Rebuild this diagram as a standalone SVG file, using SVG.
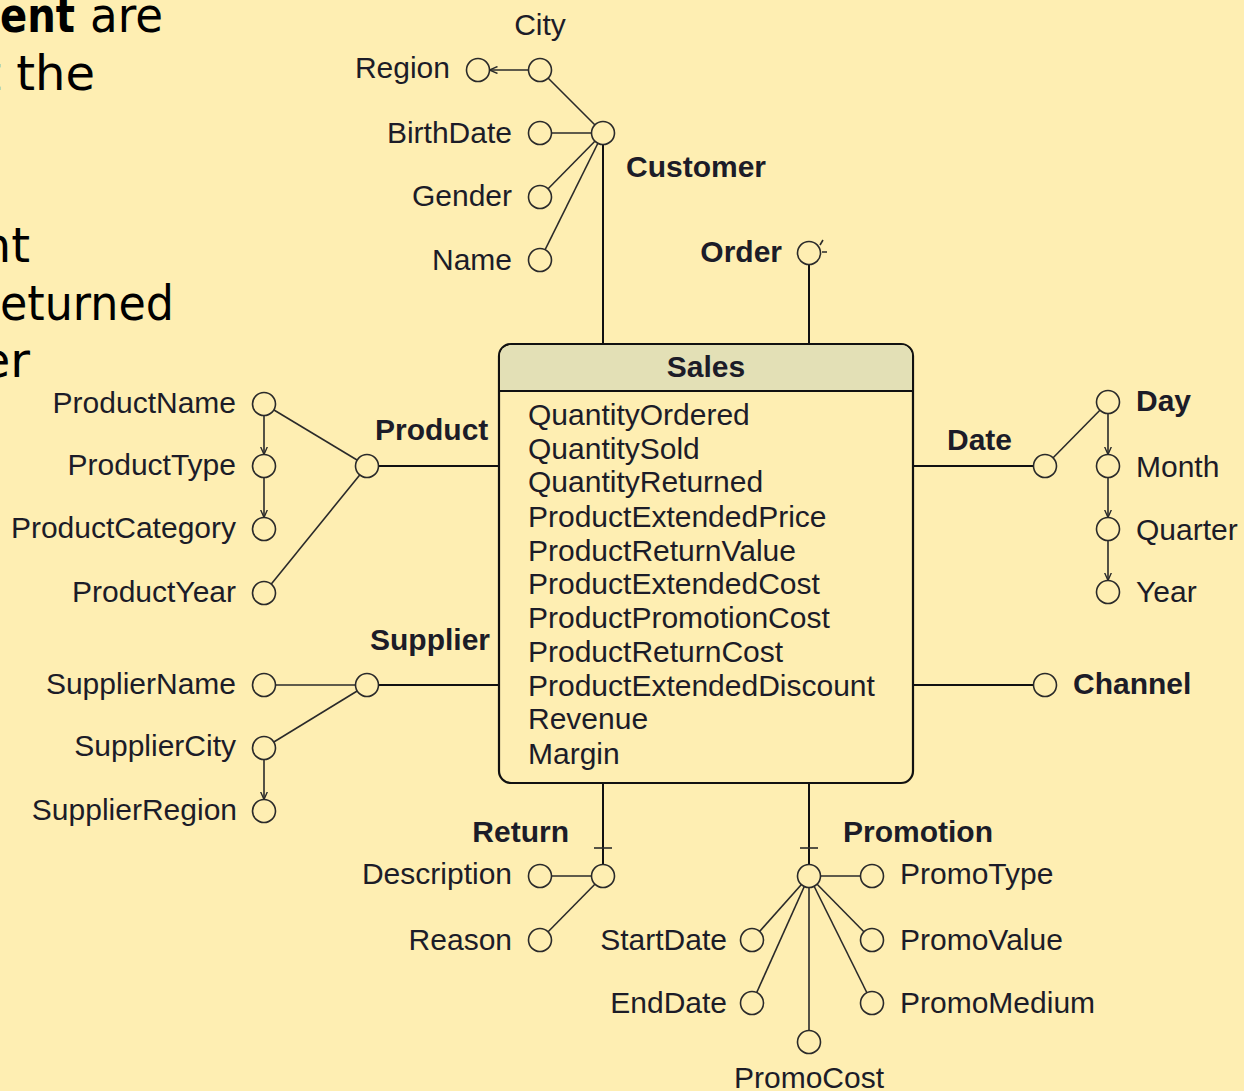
<svg xmlns="http://www.w3.org/2000/svg" width="1244" height="1091" viewBox="0 0 1244 1091">
  <style>
    .t { font-family: "Liberation Sans", Arial, sans-serif; font-size: 30px; fill: #1c1c28; }
    .b { font-weight: bold; }
    .e { text-anchor: end; }
    .m { text-anchor: middle; }
    .slide { font-family: "DejaVu Sans", sans-serif; font-size: 48px; fill: #000; }
    .n { fill: #feeeb2; stroke: #2a2a2a; stroke-width: 1.6; }
    .c line, .c path { stroke: #2a2a2a; stroke-width: 1.6; fill: none; }
    .c .k { stroke: #111; stroke-width: 2; }
  </style>
  <defs>
    <marker id="arr" viewBox="0 0 8 8" refX="8" refY="4" markerWidth="8" markerHeight="8" markerUnits="userSpaceOnUse" orient="auto">
      <path d="M0,0.5 L8,4 L0,7.5" fill="none" stroke="#2a2a2a" stroke-width="1.4"/>
    </marker>
  </defs>

  <rect x="0" y="0" width="1244" height="1091" fill="#feeeb2"/>

  <!-- slide text running in from the left -->
  <g id="slide-text">
    <text class="slide" x="0" y="32" font-weight="bold" textLength="75" lengthAdjust="spacingAndGlyphs">ent</text>
    <text class="slide" x="90" y="32" textLength="73" lengthAdjust="spacingAndGlyphs">are</text>
    <text class="slide" x="95" y="90" text-anchor="end">t the</text>
    <text class="slide" x="30" y="262" text-anchor="end">nt</text>
    <text class="slide" x="0" y="320" textLength="174" lengthAdjust="spacingAndGlyphs">eturned</text>
    <text class="slide" x="30" y="377" text-anchor="end">er</text>
  </g>

  <!-- connectors -->
  <g id="connectors" class="c">
    <!-- Customer -->
    <line x1="540" y1="70" x2="603" y2="133"/>
    <line x1="540" y1="133" x2="603" y2="133"/>
    <line x1="540" y1="197" x2="603" y2="133"/>
    <line x1="540" y1="260" x2="603" y2="133"/>
    <line x1="528.5" y1="70" x2="489.5" y2="70" marker-end="url(#arr)"/>
    <line class="k" x1="603" y1="133" x2="603" y2="344"/>
    <!-- Order -->
    <line class="k" x1="809" y1="253" x2="809" y2="344"/>
    <path d="M820,245 L823,240 M822,252 L827,252"/>
    <!-- Product -->
    <line class="k" x1="367" y1="466" x2="499" y2="466"/>
    <line x1="264" y1="404" x2="367" y2="466"/>
    <line x1="264" y1="593" x2="367" y2="466"/>
    <line x1="264" y1="415.5" x2="264" y2="454.5" marker-end="url(#arr)"/>
    <line x1="264" y1="477.5" x2="264" y2="517.5" marker-end="url(#arr)"/>
    <!-- Supplier -->
    <line class="k" x1="367" y1="685" x2="499" y2="685"/>
    <line x1="264" y1="685" x2="367" y2="685"/>
    <line x1="264" y1="748" x2="367" y2="685"/>
    <line x1="264" y1="759.5" x2="264" y2="799.5" marker-end="url(#arr)"/>
    <!-- Date -->
    <line class="k" x1="913" y1="466" x2="1045" y2="466"/>
    <line x1="1045" y1="466" x2="1108" y2="402"/>
    <line x1="1108" y1="413.5" x2="1108" y2="454.5" marker-end="url(#arr)"/>
    <line x1="1108" y1="477.5" x2="1108" y2="517.5" marker-end="url(#arr)"/>
    <line x1="1108" y1="540.5" x2="1108" y2="580.5" marker-end="url(#arr)"/>
    <!-- Channel -->
    <line class="k" x1="913" y1="685" x2="1045" y2="685"/>
    <!-- Return -->
    <line class="k" x1="603" y1="783" x2="603" y2="876"/>
    <line x1="594" y1="848" x2="612" y2="848"/>
    <line x1="540" y1="876" x2="603" y2="876"/>
    <line x1="540" y1="940" x2="603" y2="876"/>
    <!-- Promotion -->
    <line class="k" x1="809" y1="783" x2="809" y2="876"/>
    <line x1="800" y1="848" x2="818" y2="848"/>
    <line x1="809" y1="876" x2="872" y2="876"/>
    <line x1="809" y1="876" x2="872" y2="940"/>
    <line x1="809" y1="876" x2="872" y2="1003"/>
    <line x1="809" y1="876" x2="752" y2="940"/>
    <line x1="809" y1="876" x2="752" y2="1003"/>
    <line x1="809" y1="876" x2="809" y2="1042"/>
  </g>

  <!-- fact -->
  <g id="sales">
    <rect x="499" y="344" width="414" height="439" rx="12" fill="#feeeb2" stroke="#111" stroke-width="2.2"/>
    <path d="M500.1,391 V356 A11,11 0 0 1 511,345.1 H901 A11,11 0 0 1 911.9,356 V391 Z" fill="#e3e0b6"/>
    <line x1="499" y1="391" x2="913" y2="391" stroke="#111" stroke-width="2"/>
    <text class="t b m" x="706" y="377">Sales</text>
    <text class="t" x="528" y="425">QuantityOrdered</text>
    <text class="t" x="528" y="459">QuantitySold</text>
    <text class="t" x="528" y="492">QuantityReturned</text>
    <text class="t" x="528" y="527">ProductExtendedPrice</text>
    <text class="t" x="528" y="561">ProductReturnValue</text>
    <text class="t" x="528" y="594">ProductExtendedCost</text>
    <text class="t" x="528" y="628">ProductPromotionCost</text>
    <text class="t" x="528" y="662">ProductReturnCost</text>
    <text class="t" x="528" y="696">ProductExtendedDiscount</text>
    <text class="t" x="528" y="729">Revenue</text>
    <text class="t" x="528" y="764">Margin</text>
  </g>

  <!-- Customer hierarchy -->
  <g id="customer"><circle class="n" cx="603" cy="133" r="11.5"/><text class="t b" x="626" y="177">Customer</text></g>
  <g id="city"><circle class="n" cx="540" cy="70" r="11.5"/><text class="t m" x="540" y="35">City</text></g>
  <g id="region"><circle class="n" cx="478" cy="70" r="11.5"/><text class="t e" x="450" y="78">Region</text></g>
  <g id="birthdate"><circle class="n" cx="540" cy="133" r="11.5"/><text class="t e" x="512" y="143">BirthDate</text></g>
  <g id="gender"><circle class="n" cx="540" cy="197" r="11.5"/><text class="t e" x="512" y="206">Gender</text></g>
  <g id="name"><circle class="n" cx="540" cy="260" r="11.5"/><text class="t e" x="512" y="270">Name</text></g>

  <!-- Order -->
  <g id="order"><circle class="n" cx="809" cy="253" r="11.5"/><text class="t b e" x="782" y="262">Order</text></g>

  <!-- Product hierarchy -->
  <g id="product"><circle class="n" cx="367" cy="466" r="11.5"/><text class="t b" x="375" y="440">Product</text></g>
  <g id="productname"><circle class="n" cx="264" cy="404" r="11.5"/><text class="t e" x="236" y="413">ProductName</text></g>
  <g id="producttype"><circle class="n" cx="264" cy="466" r="11.5"/><text class="t e" x="236" y="475">ProductType</text></g>
  <g id="productcategory"><circle class="n" cx="264" cy="529" r="11.5"/><text class="t e" x="236" y="538">ProductCategory</text></g>
  <g id="productyear"><circle class="n" cx="264" cy="593" r="11.5"/><text class="t e" x="236" y="602">ProductYear</text></g>

  <!-- Supplier hierarchy -->
  <g id="supplier"><circle class="n" cx="367" cy="685" r="11.5"/><text class="t b" x="370" y="650">Supplier</text></g>
  <g id="suppliername"><circle class="n" cx="264" cy="685" r="11.5"/><text class="t e" x="236" y="694">SupplierName</text></g>
  <g id="suppliercity"><circle class="n" cx="264" cy="748" r="11.5"/><text class="t e" x="236" y="756">SupplierCity</text></g>
  <g id="supplierregion"><circle class="n" cx="264" cy="811" r="11.5"/><text class="t e" x="237" y="820">SupplierRegion</text></g>

  <!-- Date hierarchy -->
  <g id="date"><circle class="n" cx="1045" cy="466" r="11.5"/><text class="t b" x="947" y="450">Date</text></g>
  <g id="day"><circle class="n" cx="1108" cy="402" r="11.5"/><text class="t b" x="1136" y="411">Day</text></g>
  <g id="month"><circle class="n" cx="1108" cy="466" r="11.5"/><text class="t" x="1136" y="477">Month</text></g>
  <g id="quarter"><circle class="n" cx="1108" cy="529" r="11.5"/><text class="t" x="1136" y="540">Quarter</text></g>
  <g id="year"><circle class="n" cx="1108" cy="592" r="11.5"/><text class="t" x="1136" y="602">Year</text></g>

  <!-- Channel -->
  <g id="channel"><circle class="n" cx="1045" cy="685" r="11.5"/><text class="t b" x="1073" y="694">Channel</text></g>

  <!-- Return hierarchy -->
  <g id="return"><circle class="n" cx="603" cy="876" r="11.5"/><text class="t b e" x="569" y="842">Return</text></g>
  <g id="description"><circle class="n" cx="540" cy="876" r="11.5"/><text class="t e" x="512" y="884">Description</text></g>
  <g id="reason"><circle class="n" cx="540" cy="940" r="11.5"/><text class="t e" x="512" y="950">Reason</text></g>

  <!-- Promotion hierarchy -->
  <g id="promotion"><circle class="n" cx="809" cy="876" r="11.5"/><text class="t b" x="843" y="842">Promotion</text></g>
  <g id="promotype"><circle class="n" cx="872" cy="876" r="11.5"/><text class="t" x="900" y="884">PromoType</text></g>
  <g id="promovalue"><circle class="n" cx="872" cy="940" r="11.5"/><text class="t" x="900" y="950">PromoValue</text></g>
  <g id="promomedium"><circle class="n" cx="872" cy="1003" r="11.5"/><text class="t" x="900" y="1013">PromoMedium</text></g>
  <g id="startdate"><circle class="n" cx="752" cy="940" r="11.5"/><text class="t e" x="727" y="950">StartDate</text></g>
  <g id="enddate"><circle class="n" cx="752" cy="1003" r="11.5"/><text class="t e" x="727" y="1013">EndDate</text></g>
  <g id="promocost"><circle class="n" cx="809" cy="1042" r="11.5"/><text class="t m" x="809" y="1088">PromoCost</text></g>
</svg>
